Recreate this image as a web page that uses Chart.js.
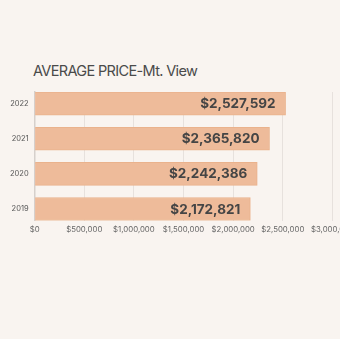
<!DOCTYPE html>
<html>
<head>
<meta charset="utf-8">
<script src="https://cdn.jsdelivr.net/npm/chart.js@4.4.1/dist/chart.umd.min.js"></script>
<style>
  html, body { margin: 0; padding: 0; background: #f9f4f0; }
  #wrap { position: relative; width: 340px; height: 339px; overflow: hidden; background: #f9f4f0; }
  #title { position: absolute; left: 33px; top: 63px; font: 14.5px/15px Inter, sans-serif; letter-spacing: -0.65px; color: #4a4a4a; white-space: nowrap; }
  #box { position: absolute; left: 0; top: 0; width: 358px; height: 339px; }
</style>
</head>
<body>
<div id="wrap">
  <div id="title">AVERAGE PRICE-Mt. View</div>
  <div id="box"><canvas id="chart"></canvas></div>
</div>
<script>
const years = ['2022', '2021', '2020', '2019'];
const avgPrices = [2527592, 2365820, 2242386, 2172821];
const xMax = 3000000;
const xStep = 500000;

const money = v => '$' + Math.round(v).toLocaleString('en-US');

// value labels drawn inside the end of each bar
const barLabels = {
  id: 'barLabels',
  afterDatasetsDraw(chart) {
    const ctx = chart.ctx;
    const meta = chart.getDatasetMeta(0);
    ctx.save();
    ctx.font = 'bold 13.5px Inter, sans-serif';
    ctx.fillStyle = '#454545';
    ctx.textAlign = 'right';
    ctx.textBaseline = 'middle';
    meta.data.forEach((bar, i) => {
      ctx.fillText(money(avgPrices[i]), bar.x - 10, bar.y + 0.5);
    });
    ctx.restore();
  }
};

new Chart(document.getElementById('chart'), {
  type: 'bar',
  data: {
    labels: years,
    datasets: [{
      data: avgPrices,
      backgroundColor: '#eebb9a',
      borderColor: '#eab28c',
      borderWidth: 1,
      borderSkipped: 'start',
      barThickness: 23
    }]
  },
  options: {
    indexAxis: 'y',
    responsive: true,
    maintainAspectRatio: false,
    animation: false,
    layout: { padding: { top: 92, left: 4, bottom: 101, right: 0 } },
    plugins: {
      legend: { display: false },
      tooltip: { enabled: false }
    },
    scales: {
      x: {
        min: 0,
        max: xMax,
        ticks: {
          stepSize: xStep,
          color: '#666666',
          padding: 4,
          font: { family: 'Inter', size: 7.8 },
          callback: v => money(v)
        },
        grid: { color: '#e7e1dd', drawTicks: false },
        border: { display: false }
      },
      y: {
        afterBuildTicks(scale) {
          // bars sit 35px apart, first and last flush with the plot edges
          scale._startValue = -0.33;
          scale._valueRange = years.length - 1 + 0.66;
        },
        ticks: {
          color: '#555555',
          padding: 6,
          font: { family: 'Inter', size: 7.5 }
        },
        grid: { display: false, drawTicks: false },
        border: { display: true, color: '#d6d0cc', width: 1.5 }
      }
    }
  },
  plugins: [barLabels]
});
</script>
</body>
</html>
